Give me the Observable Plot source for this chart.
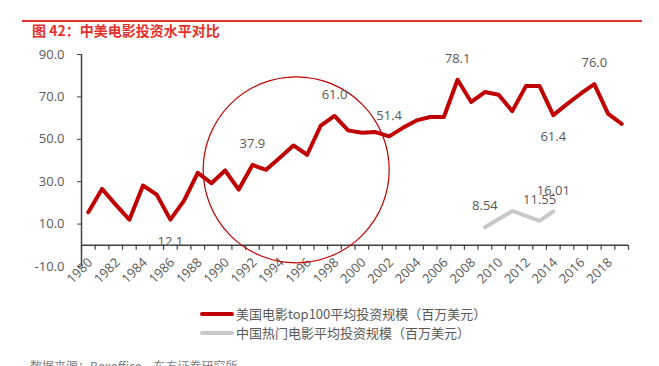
<!DOCTYPE html>
<html><head><meta charset="utf-8">
<script src="https://cdn.jsdelivr.net/npm/d3@7"></script>
<script src="https://cdn.jsdelivr.net/npm/@observablehq/plot@0.6"></script>
<style>
body{margin:0;background:#fff;font-family:"Open Sans","Noto Sans CJK SC",sans-serif;}
#wrap{position:relative;width:659px;height:366px;overflow:hidden;background:#fff;}
#rule{position:absolute;left:22px;top:20px;width:620px;height:1.5px;background:#e8302a;}
#title{position:absolute;left:32px;top:20px;font-size:14px;font-weight:bold;color:#e8302a;line-height:20px;font-family:"Noto Sans CJK SC",sans-serif;}
#chart{position:absolute;left:0;top:0;}
.leg{position:absolute;left:200px;font-size:13px;color:#595959;line-height:18px;display:flex;align-items:center;font-family:"Noto Sans CJK SC",sans-serif;}
.sw{width:34px;height:4px;border-radius:2px;margin-right:2px;}
#source{position:absolute;left:30px;top:357px;font-size:12px;color:#808080;font-family:"Noto Sans CJK SC",sans-serif;}
</style></head><body>
<div id="wrap">
  <div id="chart"></div>
  <div id="rule"></div>
  <div id="title">图 42：中美电影投资水平对比</div>
  <div class="leg" style="top:305px"><div class="sw" style="background:#c00000"></div><span>美国电影top100平均投资规模（百万美元）</span></div>
  <div class="leg" style="top:324px"><div class="sw" style="background:#c8c8c8"></div><span>中国热门电影平均投资规模（百万美元）</span></div>
  <div id="source">数据来源：Boxoffice，东方证券研究所</div>
</div>
<script>
const years = [1980,1981,1982,1983,1984,1985,1986,1987,1988,1989,
  1990,1991,1992,1993,1994,1995,1996,1997,1998,1999,
  2000,2001,2002,2003,2004,2005,2006,2007,2008,2009,
  2010,2011,2012,2013,2014,2015,2016,2017,2018,2019];
const usValues = [15.6,26.6,19.2,12.1,28.2,23.9,12.1,21.1,34.2,29.3,
  35.3,26.3,37.9,35.6,41.3,47.1,42.7,56.5,61.0,54.2,
  53.1,53.4,51.4,55.4,58.9,60.5,60.5,78.1,67.6,72.3,
  71.0,63.3,75.1,75.1,61.4,66.6,71.5,76.0,62.1,57.3];
const cnYears = [2009, 2011, 2013, 2014];
const cnValues = [8.54, 16.2, 11.55, 16.01];
const yTicks = [90, 70, 50, 30, 10, -10];
const xTickLabels = [1980,1982,1984,1986,1988,1990,1992,1994,1996,1998,2000,2002,2004,2006,2008,2010,2012,2014,2016,2018];
const usLabelAbove = [1992, 1998, 2002, 2007, 2017];
const usLabelBelow = [1986, 2014];
const cnLabelYears = [2009, 2013, 2014];
const circleAnno = [{year: 1995.2, value: 35.6}];

const us = years.map((y, i) => ({year: y, value: usValues[i]}));
const cn = cnYears.map((y, i) => ({year: y, value: cnValues[i]}));
const boundaries = years.map(y => y - 0.5).concat([years[years.length - 1] + 0.5]);
const usAbove = us.filter(d => usLabelAbove.includes(d.year));
const usBelow = us.filter(d => usLabelBelow.includes(d.year));
const cnLab = cn.filter(d => cnLabelYears.includes(d.year));

const txt = "#595959", ax = "#404040";
const chart = Plot.plot({
  width: 659, height: 366,
  marginTop: 54, marginBottom: 100, marginLeft: 81, marginRight: 31,
  x: {domain: [1979.5, 2019.5], axis: null},
  y: {domain: [-10, 90]},
  style: {fontFamily: '"Open Sans","Noto Sans CJK SC",sans-serif', fontSize: "13px", background: "transparent", overflow: "visible"},
  marks: [
    Plot.axisY({ticks: yTicks, tickFormat: d => d.toFixed(1), tickSize: 4, tickPadding: 13, stroke: ax, fill: txt, label: null, fontSize: 13}),
    Plot.ruleX([1979.5], {stroke: ax, strokeWidth: 1.5}),
    Plot.ruleY([0], {stroke: ax, strokeWidth: 1.5}),
    Plot.ruleX(boundaries, {x: d => d, y1: 0, y2: 0, insetBottom: -5, stroke: ax, strokeWidth: 1.2}),
    Plot.text(xTickLabels, {x: d => d, y: 0, text: d => String(d), rotate: -45, textAnchor: "end", dx: 2, dy: 15, fill: txt, fontSize: 13}),
    Plot.dot(circleAnno, {x: "year", y: "value", r: 93, stroke: "#c00000", strokeWidth: 1.2, fill: "none"}),
    Plot.line(cn, {x: "year", y: "value", stroke: "#c8c8c8", strokeWidth: 4}),
    Plot.line(us, {x: "year", y: "value", stroke: "#c00000", strokeWidth: 4}),
    Plot.text(usAbove, {x: "year", y: "value", text: d => d.value.toFixed(1), dy: -21, fill: txt, fontSize: 13}),
    Plot.text(usBelow, {x: "year", y: "value", text: d => d.value.toFixed(1), dy: 22, fill: txt, fontSize: 13}),
    Plot.text(cnLab, {x: "year", y: "value", text: d => d.value.toFixed(2), dy: -21, fill: txt, fontSize: 13})
  ]
});
document.getElementById("chart").append(chart);
</script>
</body></html>
